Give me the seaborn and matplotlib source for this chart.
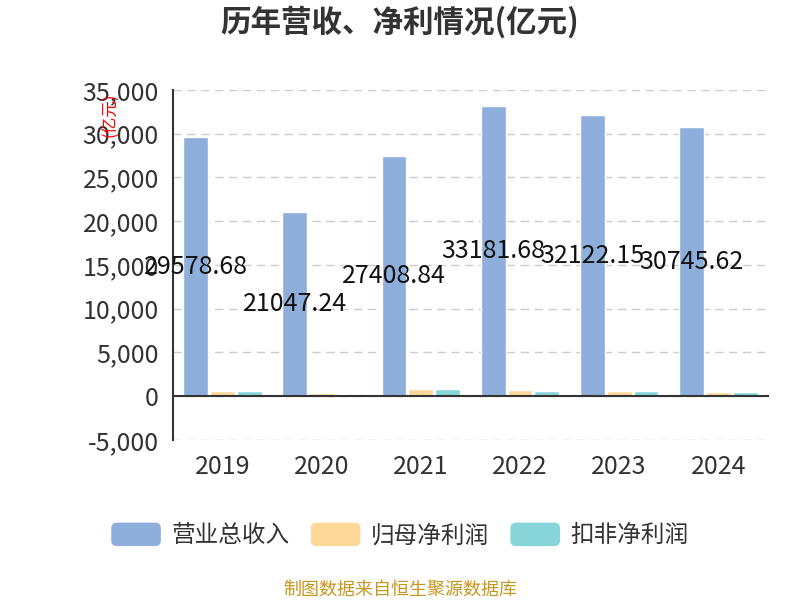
import matplotlib
matplotlib.use('Agg')
import matplotlib.pyplot as plt
import matplotlib.patches as mpatches
from matplotlib.legend_handler import HandlerPatch
from matplotlib.ticker import FuncFormatter, FixedLocator
import pandas as pd
import seaborn as sns

years = ['2019', '2020', '2021', '2022', '2023', '2024']
series_names = ['营业总收入', '归母净利润', '扣非净利润']
revenue = [29578.68, 21047.24, 27408.84, 33181.68, 32122.15, 30745.62]
net_profit = [620, 380, 770, 730, 620, 540]
net_profit_deducted = [590, 12, 770, 640, 650, 500]
colors = ['#8eaedb', '#fdd89a', '#87d5d9']

sns.set_style('white')
plt.rcParams['font.family'] = ['Noto Sans CJK SC', 'DejaVu Sans']
plt.rcParams['axes.unicode_minus'] = False


class RoundHandler(HandlerPatch):
    # rounded legend swatches
    def create_artists(self, legend, orig_handle, xdescent, ydescent, width, height, fontsize, trans):
        p = mpatches.FancyBboxPatch((-xdescent, -ydescent), width, height,
                                    boxstyle='round,pad=0,rounding_size=4',
                                    facecolor=orig_handle.get_facecolor(),
                                    edgecolor='none', transform=trans)
        return [p]


df = pd.DataFrame({
    'year': years * 3,
    'series': [series_names[0]] * 6 + [series_names[1]] * 6 + [series_names[2]] * 6,
    'value': revenue + net_profit + net_profit_deducted,
})

fig = plt.figure(figsize=(8, 6), dpi=100)
ax = fig.add_axes([0.216, 0.2667, 0.744, 0.5833])

sns.barplot(data=df, x='year', y='value', hue='series', hue_order=series_names,
            palette=colors, width=0.81, gap=0.07, saturation=1, ax=ax,
            legend=False, errorbar=None)

# labels only on revenue bars
ax.bar_label(ax.containers[0], labels=[f'{v:.2f}' for v in revenue],
             label_type='center', fontsize=18, color='#111111')

ax.set_ylim(-5000, 35000)
ax.set_yticks(range(-5000, 35001, 5000))
ax.yaxis.set_major_formatter(FuncFormatter(lambda v, p: f'{int(v):,}'))
ax.tick_params(axis='y', labelsize=18, colors='#333333', length=7, width=1.5, pad=3)
ax.yaxis.grid(True, linestyle=(0, (6, 4)), color='#cccccc', linewidth=1)
ax.set_axisbelow(True)

# x axis line sits at zero, ticks between categories
ax.set_xlim(-0.5, 5.5)
ax.spines['bottom'].set_position(('data', 0))
ax.xaxis.set_major_locator(FixedLocator([i - 0.5 for i in range(7)]))
ax.set_xticklabels([])
ax.tick_params(axis='x', length=7, width=1.5, colors='#333333', direction='out')
for s in ['top', 'right']:
    ax.spines[s].set_visible(False)
for s in ['left', 'bottom']:
    ax.spines[s].set_color('#333333')
    ax.spines[s].set_linewidth(1.5)
ax.set_xlabel('')
ax.set_ylabel('')

# year labels at the bottom of the plot area
sec = ax.secondary_xaxis(0)
sec.set_xticks(range(len(years)))
sec.set_xticklabels(years)
sec.tick_params(length=0, pad=10, labelsize=18, colors='#333333')
sec.spines['bottom'].set_visible(False)

ax.text(-0.104, 0.93, '(亿元)', transform=ax.transAxes, rotation=90,
        color='red', fontsize=12, ha='center', va='center')

fig.text(0.5, 0.962, '历年营收、净利情况(亿元)', ha='center', va='center',
         fontsize=22, fontweight='bold', color='#333333')

handles = [mpatches.Patch(facecolor=c) for c in colors]
fig.legend(handles, series_names, loc='center', bbox_to_anchor=(0.5, 1 - 535 / 600),
           ncol=3, frameon=False, fontsize=17, handlelength=2.1, handleheight=1.15,
           handletextpad=0.45, columnspacing=0.9, labelcolor='#333333',
           handler_map={mpatches.Patch: RoundHandler()})

fig.text(0.5, 1 - 590 / 600, '制图数据来自恒生聚源数据库', ha='center', va='center',
         fontsize=13, color='#c8961e')

fig.savefig('out.png', dpi=100)
